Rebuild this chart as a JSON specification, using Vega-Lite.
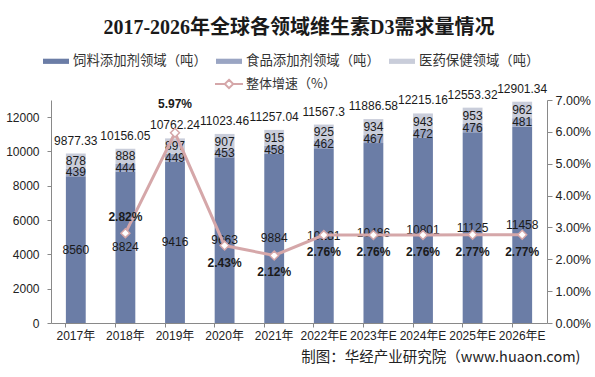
{
  "$schema": "https://vega.github.io/schema/vega-lite/v6.json",
  "width": 496,
  "height": 223,
  "autosize": {"type": "none"},
  "padding": {"left": 51, "top": 100, "right": 48, "bottom": 54},
  "background": "white",
  "title": {
    "text": "2017-2026年全球各领域维生素D3需求量情况",
    "font": "Liberation Serif, Noto Sans CJK SC",
    "fontSize": 20,
    "fontWeight": "bold",
    "color": "#1a1a1a",
    "anchor": "middle",
    "frame": "group",
    "baseline": "alphabetic",
    "offset": -6
  },
  "datasets": {
    "segments": [
      {"year": "2017年", "type": "饲料添加剂领域（吨）", "value": 8560},
      {"year": "2017年", "type": "食品添加剂领域（吨）", "value": 439},
      {"year": "2017年", "type": "医药保健领域（吨）", "value": 878},
      {"year": "2018年", "type": "饲料添加剂领域（吨）", "value": 8824},
      {"year": "2018年", "type": "食品添加剂领域（吨）", "value": 444},
      {"year": "2018年", "type": "医药保健领域（吨）", "value": 888},
      {"year": "2019年", "type": "饲料添加剂领域（吨）", "value": 9416},
      {"year": "2019年", "type": "食品添加剂领域（吨）", "value": 449},
      {"year": "2019年", "type": "医药保健领域（吨）", "value": 897},
      {"year": "2020年", "type": "饲料添加剂领域（吨）", "value": 9663},
      {"year": "2020年", "type": "食品添加剂领域（吨）", "value": 453},
      {"year": "2020年", "type": "医药保健领域（吨）", "value": 907},
      {"year": "2021年", "type": "饲料添加剂领域（吨）", "value": 9884},
      {"year": "2021年", "type": "食品添加剂领域（吨）", "value": 458},
      {"year": "2021年", "type": "医药保健领域（吨）", "value": 915},
      {"year": "2022年E", "type": "饲料添加剂领域（吨）", "value": 10181},
      {"year": "2022年E", "type": "食品添加剂领域（吨）", "value": 462},
      {"year": "2022年E", "type": "医药保健领域（吨）", "value": 925},
      {"year": "2023年E", "type": "饲料添加剂领域（吨）", "value": 10486},
      {"year": "2023年E", "type": "食品添加剂领域（吨）", "value": 467},
      {"year": "2023年E", "type": "医药保健领域（吨）", "value": 934},
      {"year": "2024年E", "type": "饲料添加剂领域（吨）", "value": 10801},
      {"year": "2024年E", "type": "食品添加剂领域（吨）", "value": 472},
      {"year": "2024年E", "type": "医药保健领域（吨）", "value": 943},
      {"year": "2025年E", "type": "饲料添加剂领域（吨）", "value": 11125},
      {"year": "2025年E", "type": "食品添加剂领域（吨）", "value": 476},
      {"year": "2025年E", "type": "医药保健领域（吨）", "value": 953},
      {"year": "2026年E", "type": "饲料添加剂领域（吨）", "value": 11458},
      {"year": "2026年E", "type": "食品添加剂领域（吨）", "value": 481},
      {"year": "2026年E", "type": "医药保健领域（吨）", "value": 962}
    ],
    "years": [
      {"year": "2017年", "total": 9877.33, "growth": null},
      {"year": "2018年", "total": 10156.05, "growth": 0.0282},
      {"year": "2019年", "total": 10762.24, "growth": 0.0597},
      {"year": "2020年", "total": 11023.46, "growth": 0.0243},
      {"year": "2021年", "total": 11257.04, "growth": 0.0212},
      {"year": "2022年E", "total": 11567.3, "growth": 0.0276},
      {"year": "2023年E", "total": 11886.58, "growth": 0.0276},
      {"year": "2024年E", "total": 12215.16, "growth": 0.0276},
      {"year": "2025年E", "total": 12553.32, "growth": 0.0277},
      {"year": "2026年E", "total": 12901.34, "growth": 0.0277}
    ]
  },
  "encoding": {
    "x": {
      "field": "year",
      "type": "nominal",
      "sort": null,
      "scale": {"paddingInner": 0.6, "paddingOuter": 0.3},
      "axis": {
        "title": "制图：华经产业研究院（www.huaon.com)",
        "titleFont": "Noto Sans CJK SC",
        "titleFontSize": 14.5,
        "titleFontWeight": "normal",
        "titleColor": "#222222",
        "titleAnchor": "end",
        "titleAlign": "right",
        "titleBaseline": "middle",
        "titleX": 529,
        "titleY": 34,
        "labelAngle": 0,
        "labelFont": "Liberation Sans, Noto Sans CJK SC",
        "labelFontSize": 12,
        "labelColor": "#222222",
        "labelOverlap": false,
        "labelLimit": 120,
        "labelPadding": 3,
        "bandPosition": 0,
        "tickSize": 4,
        "tickColor": "#898989",
        "domainColor": "#898989"
      }
    }
  },
  "layer": [
    {
      "encoding": {
        "y": {
          "type": "quantitative",
          "scale": {"domain": [0, 13000], "nice": false},
          "axis": {
            "title": null,
            "values": [0, 2000, 4000, 6000, 8000, 10000, 12000],
            "format": "d",
            "labelOverlap": false,
            "grid": false,
            "labelFont": "Liberation Sans",
            "labelFontSize": 12,
            "labelColor": "#222222",
            "labelPadding": 8,
            "tickSize": 4,
            "tickColor": "#898989",
            "domainColor": "#898989"
          }
        }
      },
      "layer": [
        {
          "data": {"name": "segments"},
          "transform": [
            {"stack": "value", "groupby": ["year"], "sort": [{"field": "type", "order": "descending"}], "as": ["v0", "v1"]}
          ],
          "mark": {"type": "bar"},
          "encoding": {
            "y": {"field": "v0", "type": "quantitative"},
            "y2": {"field": "v1"},
            "color": {
              "field": "type",
              "type": "nominal",
              "scale": {
                "domain": ["饲料添加剂领域（吨）", "食品添加剂领域（吨）", "医药保健领域（吨）"],
                "range": ["#6B7DA6", "#9AA5C3", "#C9CDDA"]
              },
              "legend": {
                "orient": "none",
                "legendX": -8,
                "legendY": -52,
                "direction": "horizontal",
                "title": null,
                "padding": 0,
                "symbolType": "M-1,-0.2H1V0.2H-1Z",
                "symbolSize": 676,
                "symbolStrokeWidth": 0,
                "labelFont": "Noto Sans CJK SC",
                "labelFontSize": 13.4,
                "labelColor": "#333333",
                "labelOffset": 4,
                "columnPadding": 9,
                "labelLimit": 300
              }
            }
          }
        },
        {
          "data": {"name": "segments"},
          "transform": [
            {"stack": "value", "groupby": ["year"], "sort": [{"field": "type", "order": "descending"}], "as": ["v0", "v1"]},
            {"fold": ["v0", "v1"], "as": ["edge", "pos"]},
            {"aggregate": [{"op": "mean", "field": "pos", "as": "mid"}], "groupby": ["year", "type", "value"]}
          ],
          "mark": {"type": "text", "font": "Liberation Sans", "fontSize": 12, "color": "#1a1a1a", "baseline": "middle"},
          "encoding": {
            "y": {"field": "mid", "type": "quantitative"},
            "text": {"field": "value", "type": "quantitative", "format": "d"}
          }
        },
        {
          "data": {"name": "years"},
          "mark": {"type": "text", "font": "Liberation Sans", "fontSize": 12, "color": "#1a1a1a", "baseline": "middle", "dy": -13},
          "encoding": {
            "y": {"field": "total", "type": "quantitative"},
            "text": {"field": "total", "type": "quantitative", "format": ""}
          }
        }
      ]
    },
    {
      "data": {"name": "years"},
      "transform": [{"filter": "datum.growth != null"}],
      "encoding": {
        "y": {
          "field": "growth",
          "type": "quantitative",
          "scale": {"domain": [0, 0.07], "nice": false},
          "axis": {
            "orient": "right",
            "title": null,
            "values": [0, 0.01, 0.02, 0.03, 0.04, 0.05, 0.06, 0.07],
            "format": ".2%",
            "labelOverlap": false,
            "grid": false,
            "labelFont": "Liberation Sans",
            "labelFontSize": 12.5,
            "labelColor": "#222222",
            "labelPadding": 3,
            "tickSize": 5,
            "tickColor": "#898989",
            "domainColor": "#898989"
          }
        }
      },
      "layer": [
        {
          "mark": {"type": "line", "strokeWidth": 3},
          "encoding": {
            "stroke": {
              "datum": "整体增速（%）",
              "type": "nominal",
              "scale": {"range": ["#D5A7A9"]},
              "legend": {
                "orient": "none",
                "legendX": 163,
                "legendY": -31,
                "direction": "horizontal",
                "title": null,
                "padding": 0,
                "symbolType": "M-1,0H-0.3M0.3,0H1M0,-0.3L0.3,0L0,0.3L-0.3,0Z",
                "symbolSize": 784,
                "symbolStrokeWidth": 2,
                "symbolFillColor": "white",
                "symbolStrokeColor": "#D5A7A9",
                "labelFont": "Noto Sans CJK SC",
                "labelFontSize": 13,
                "labelColor": "#333333",
                "labelOffset": 2,
                "labelLimit": 300
              }
            }
          }
        },
        {
          "mark": {"type": "point", "shape": "diamond", "filled": true, "fill": "white", "stroke": "#D5A7A9", "strokeWidth": 1.5, "size": 80, "opacity": 1}
        },
        {
          "transform": [{"filter": "datum.year == '2018年'"}],
          "mark": {"type": "text", "font": "Liberation Sans", "fontSize": 12, "fontWeight": "bold", "color": "#1a1a1a", "baseline": "middle", "dy": -16},
          "encoding": {"text": {"field": "growth", "type": "quantitative", "format": ".2%"}}
        },
        {
          "transform": [{"filter": "datum.year == '2019年'"}],
          "mark": {"type": "text", "font": "Liberation Sans", "fontSize": 12, "fontWeight": "bold", "color": "#1a1a1a", "baseline": "middle", "dy": -29},
          "encoding": {"text": {"field": "growth", "type": "quantitative", "format": ".2%"}}
        },
        {
          "transform": [{"filter": "datum.year != '2018年' && datum.year != '2019年'"}],
          "mark": {"type": "text", "font": "Liberation Sans", "fontSize": 12, "fontWeight": "bold", "color": "#1a1a1a", "baseline": "middle", "dy": 17},
          "encoding": {"text": {"field": "growth", "type": "quantitative", "format": ".2%"}}
        }
      ]
    }
  ],
  "resolve": {"scale": {"y": "independent"}},
  "config": {
    "view": {"stroke": null},
    "axis": {"domainWidth": 1, "tickWidth": 1}
  }
}
